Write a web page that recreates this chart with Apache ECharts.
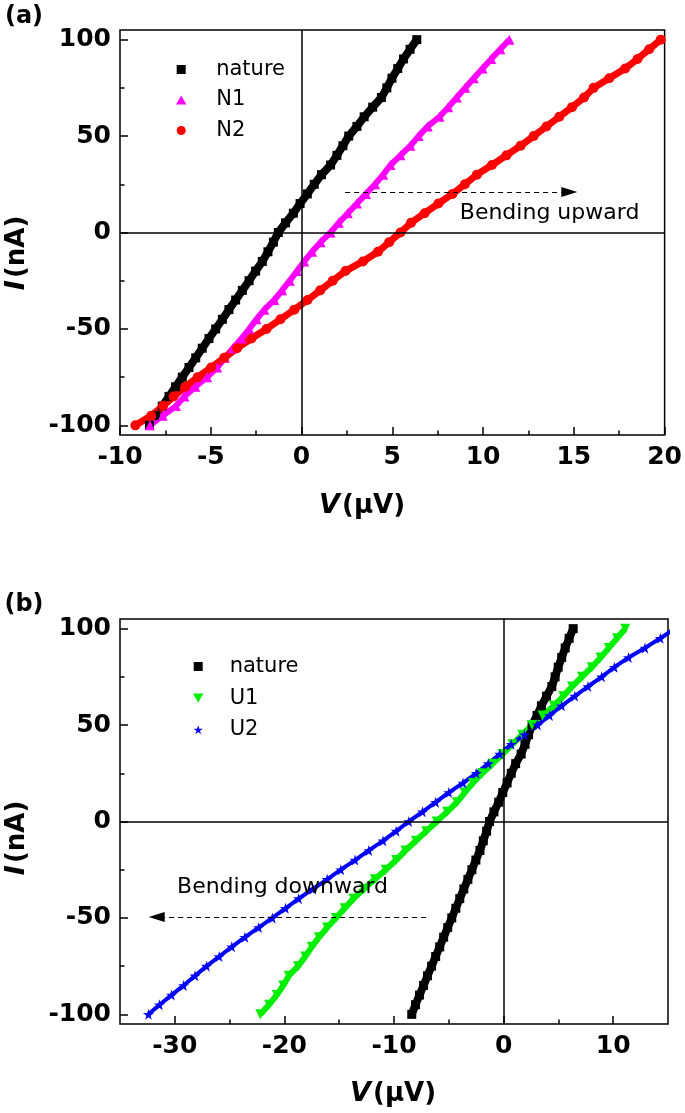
<!DOCTYPE html>
<html><head><meta charset="utf-8">
<script src="https://cdn.jsdelivr.net/npm/echarts@6/dist/echarts.min.js"></script>
<style>html,body{margin:0;padding:0;background:#fff}#c{width:685px;height:1113px}</style>
</head><body><div id="c"></div>
<script>
const FONT = 'DejaVu Sans';

// current levels (nA)
const I_nA = [-100,-95,-90,-85,-80,-75,-70,-65,-60,-55,-50,-45,-40,-35,-30,-25,-20,-15,-10,-5,0,5,10,15,20,25,30,35,40,45,50,55,60,65,70,75,80,85,90,95,100];
// voltages (uV) read for each current level
const V_nature = [-8.38,-8.04,-7.67,-7.30,-6.94,-6.57,-6.20,-5.83,-5.47,-5.10,-4.73,-4.36,-4.00,-3.63,-3.26,-2.89,-2.53,-2.16,-1.85,-1.55,-1.28,-0.88,-0.45,-0.08,0.32,0.70,1.10,1.60,1.95,2.28,2.60,3.05,3.45,3.92,4.40,4.70,4.98,5.30,5.62,5.98,6.35];
const V_N1 = [-8.35,-7.65,-6.92,-6.45,-5.85,-5.20,-4.65,-4.22,-3.78,-3.30,-2.88,-2.48,-2.05,-1.50,-1.07,-0.65,-0.25,0.15,0.58,1.05,1.60,2.05,2.55,3.05,3.55,4.05,4.50,4.90,5.45,6.00,6.45,6.95,7.60,8.08,8.55,9.02,9.49,9.97,10.45,10.95,11.45];
const V_N2 = [-9.15,-8.28,-7.63,-7.05,-6.40,-5.72,-4.98,-4.26,-3.55,-2.76,-1.93,-1.16,-0.40,0.33,1.03,1.72,2.42,3.38,4.21,4.83,5.45,6.03,6.78,7.54,8.31,9.00,9.66,10.49,11.29,12.07,12.79,13.49,14.20,14.90,15.56,16.09,16.95,17.83,18.51,19.15,19.79];
const V_U1 = [-22.20,-21.40,-20.70,-20.10,-19.60,-18.75,-18.10,-17.50,-16.85,-16.10,-15.30,-14.50,-13.70,-12.75,-11.75,-10.75,-9.80,-8.95,-8.00,-7.05,-6.10,-5.15,-4.25,-3.55,-2.80,-1.95,-1.00,-0.10,0.80,1.70,2.60,3.55,4.60,5.45,6.25,7.15,8.05,8.85,9.60,10.35,11.10];
const V_U2 = [-32.40,-31.40,-30.30,-29.20,-28.15,-27.10,-25.95,-24.80,-23.60,-22.35,-21.10,-19.90,-18.70,-17.40,-16.10,-14.85,-13.55,-12.30,-11.00,-9.80,-8.65,-7.40,-6.20,-5.00,-3.70,-2.50,-1.40,-0.35,0.70,1.90,3.10,4.20,5.30,6.50,7.70,8.95,10.10,11.40,12.90,14.30,15.60];

// ticks
const xMajorA = [-10,-5,0,5,10,15,20];
const xMinorA = [-7.5,-2.5,2.5,7.5,12.5,17.5];
const xMajorB = [-30,-20,-10,0,10];
const xMinorB = [-25,-15,-5,5];
const yMajor = [-100,-50,0,50,100];
const yMinor = [-75,-25,25,75];

const pts = V => V.map((v, k) => [v, I_nA[k]]);

const STAR = 'path://M50,0 L61,35 L98,35 L68,57 L79,91 L50,70 L21,91 L32,57 L2,35 L39,35 Z';
const DOWNTRI = 'path://M0,0 L10,0 L5,8.66 Z';
const SQUARE_ICON = 'path://M0,0 L10,0 L10,10 L0,10 Z';
const UPTRI_ICON = 'path://M5,0 L10,8.66 L0,8.66 Z';

function axisPair(kind, gi, min, max, major, minor) {
  const common = {gridIndex: gi, type: 'value', min, max, splitLine: {show: false},
    axisLine: {show: false, onZero: false}, position: kind === 'x' ? 'bottom' : 'left'};
  return [
    Object.assign({}, common, {
      axisTick: {show: true, inside: true, length: 8, customValues: major, lineStyle: {color: '#000', width: 1.5}},
      axisLabel: {show: true, customValues: major, margin: kind === 'x' ? 10 : 9,
        fontFamily: FONT, fontWeight: 'bold', fontSize: 25, color: '#000'}
    }),
    Object.assign({}, common, {
      axisTick: {show: true, inside: true, length: 4.5, customValues: minor, lineStyle: {color: '#000', width: 1.5}},
      axisLabel: {show: false}
    })
  ];
}

const zeroLines = [
  {xAxis: 0, lineStyle: {type: 'solid', color: '#000', width: 1.5}},
  {yAxis: 0, lineStyle: {type: 'solid', color: '#000', width: 1.5}}
];

function ser(name, V, xi, yi, symbol, size, color, lw, extra) {
  return Object.assign({
    name, type: 'line', xAxisIndex: xi, yAxisIndex: yi, data: pts(V),
    symbol, symbolSize: size, showSymbol: true, showAllSymbol: true,
    itemStyle: {color}, lineStyle: {color, width: lw}, emphasis: {disabled: true}
  }, extra || {});
}

function annotations(zl, arrowFrom, arrowTo, textAt, text) {
  return {
    markLine: {
      silent: true, symbol: ['none', 'none'], label: {show: false}, animation: false,
      data: zl.concat([[
        {coord: arrowFrom, symbol: 'none', lineStyle: {type: [5, 4], color: '#000', width: 1.2}},
        {coord: arrowTo, symbol: 'triangle', symbolSize: [10, 16]}
      ]])
    },
    markPoint: {
      silent: true, symbol: 'circle', symbolSize: 1, itemStyle: {color: 'rgba(0,0,0,0)'},
      data: [{coord: textAt, label: {show: true, position: 'right', distance: 0, formatter: text,
        color: '#000', fontSize: 22, fontFamily: FONT}}]
    }
  };
}

const xa = axisPair('x', 0, -10, 20, xMajorA, xMinorA);
const ya = axisPair('y', 0, -105, 105, yMajor, yMinor);
const xb = axisPair('x', 1, -35, 15, xMajorB, xMinorB);
const yb = axisPair('y', 1, -105, 105, yMajor, yMinor);

const legendText = {fontFamily: FONT, fontSize: 21, color: '#000', lineHeight: 20};

const option = {
  animation: false,
  backgroundColor: '#fff',
  grid: [
    {left: 120, top: 30, width: 548, height: 405, show: true, borderColor: '#000', borderWidth: 1.5, backgroundColor: 'transparent'},
    {left: 120, top: 619, width: 548, height: 405, show: true, borderColor: '#000', borderWidth: 1.5, backgroundColor: 'transparent'}
  ],
  xAxis: [xa[0], xa[1], xb[0], xb[1]],
  yAxis: [ya[0], ya[1], yb[0], yb[1]],
  legend: [
    {orient: 'vertical', left: 171, top: 54, itemWidth: 60, itemHeight: 9, itemGap: 9.5,
      symbolKeepAspect: true, selectedMode: false, textStyle: legendText,
      data: [{name: 'nature', icon: SQUARE_ICON}, {name: 'N1', icon: UPTRI_ICON}, {name: 'N2', icon: 'circle'}]},
    {orient: 'vertical', left: 188, top: 651, itemWidth: 53, itemHeight: 9, itemGap: 10.6,
      symbolKeepAspect: true, selectedMode: false, textStyle: legendText,
      data: [{name: 'nature', icon: SQUARE_ICON}, {name: 'U1', icon: DOWNTRI}, {name: 'U2', icon: STAR}]}
  ],
  series: [
    ser('nature', V_nature, 0, 0, 'rect', 9, '#000000', 8,
      annotations(zeroLines, [2.4, 21], [14.75, 21], [8.69, 10], 'Bending upward')),
    ser('N1', V_N1, 0, 0, 'triangle', 10, '#ff00ff', 6),
    ser('N2', V_N2, 0, 0, 'circle', 10, '#ff0000', 7),
    ser('nature', V_nature, 2, 2, 'rect', 9, '#000000', 8,
      annotations(zeroLines, [-7.07, -49.5], [-31.65, -49.5], [-29.84, -34], 'Bending downward')),
    ser('U1', V_U1, 2, 2, DOWNTRI, 10, '#00ee00', 6),
    ser('U2', V_U2, 2, 2, STAR, 11, '#0000ff', 4)
  ],
  graphic: [
    {type: 'text', x: 24, y: 17, style: {text: '(a)', fontFamily: FONT, fontWeight: 'bold', fontSize: 24, fill: '#000', align: 'center', verticalAlign: 'middle'}},
    {type: 'text', x: 24, y: 605, style: {text: '(b)', fontFamily: FONT, fontWeight: 'bold', fontSize: 24, fill: '#000', align: 'center', verticalAlign: 'middle'}},
    {type: 'text', x: 17, y: 253, rotation: Math.PI / 2, style: {text: '{i|I}{s| }{n|(nA)}', align: 'center', verticalAlign: 'middle', fill: '#000',
      rich: {i: {fontFamily: FONT, fontWeight: 'bold', fontStyle: 'italic', fontSize: 27}, s: {fontSize: 8}, n: {fontFamily: FONT, fontWeight: 'bold', fontSize: 26}}}},
    {type: 'text', x: 17, y: 838, rotation: Math.PI / 2, style: {text: '{i|I}{s| }{n|(nA)}', align: 'center', verticalAlign: 'middle', fill: '#000',
      rich: {i: {fontFamily: FONT, fontWeight: 'bold', fontStyle: 'italic', fontSize: 27}, s: {fontSize: 8}, n: {fontFamily: FONT, fontWeight: 'bold', fontSize: 26}}}},
    {type: 'text', x: 362, y: 506, style: {text: '{i|V}{s| }{n|(μV)}', align: 'center', verticalAlign: 'middle', fill: '#000',
      rich: {i: {fontFamily: FONT, fontWeight: 'bold', fontStyle: 'italic', fontSize: 27}, s: {fontSize: 8}, n: {fontFamily: FONT, fontWeight: 'bold', fontSize: 26}}}},
    {type: 'text', x: 393, y: 1094, style: {text: '{i|V}{s| }{n|(μV)}', align: 'center', verticalAlign: 'middle', fill: '#000',
      rich: {i: {fontFamily: FONT, fontWeight: 'bold', fontStyle: 'italic', fontSize: 27}, s: {fontSize: 8}, n: {fontFamily: FONT, fontWeight: 'bold', fontSize: 26}}}}
  ]
};

const chart = echarts.init(document.getElementById('c'), null, {renderer: 'canvas'});
chart.setOption(option);
</script>
</body></html>
